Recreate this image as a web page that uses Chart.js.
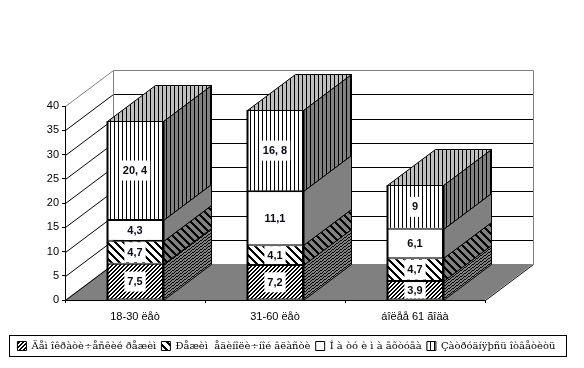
<!DOCTYPE html>
<html><head><meta charset="utf-8">
<style>html,body{margin:0;padding:0;background:#fff}canvas{display:block}</style>
<script src="https://cdn.jsdelivr.net/npm/chart.js@4"></script>
</head><body><canvas id="c" width="584" height="368"></canvas>
<script>
const categories = ["18-30 ëåò", "31-60 ëåò", "áîëåå 61 ãîäà"];
const seriesNames = ["Äåì îêðàòè÷åñêèé ðåæèì", "Ðåæèì  åäèíîëè÷íîé âëàñòè", "Î à òó è ì à ãõòóãà", "Çàòðóäíÿþñü îòâåòèòü"];
const democratic = [7.5, 7.2, 3.9];
const autocratic = [4.7, 4.1, 4.7];
const other = [4.3, 11.1, 6.1];
const undecided = [20.4, 16.8, 9];
const valueLabels = [["7,5","7,2","3,9"],["4,7","4,1","4,7"],["4,3","11,1","6,1"],["20, 4","16, 8","9"]];

const DX = 48, DY = 36, LEGEND_SHIFT = 4;
function tile(w,h,bg,fn){
  const t=document.createElement('canvas');t.width=w;t.height=h;
  const g=t.getContext('2d');g.fillStyle=bg;g.fillRect(0,0,w,h);g.fillStyle='#000';
  for(let x=0;x<w;x++)for(let y=0;y<h;y++)if(fn(x,y))g.fillRect(x,y,1,1);
  return g.createPattern(t,'repeat');
}
const mod=(a,n)=>((a%n)+n)%n;
const dense=b=>tile(4,4,b,(x,y)=>mod(x+y,4)<2);
const wide=b=>tile(8,8,b,(x,y)=>mod(x-y,8)<3);
const vert=b=>tile(4,1,b,(x,y)=>x===2);
const frontFill=[dense('#fff'),wide('#fff'),'#fff',vert('#fff')];
const sideFill=[tile(4,3,'#808080',(x,y)=>mod(y+Math.floor(.75*x),3)===0),wide('#808080'),'#808080',vert('#808080')];
const topFill=vert('#C0C0C0');

const walls={id:'walls',afterLayout(ch){ch.legend.top+=LEGEND_SHIFT;},beforeDraw(ch){
  const g=ch.ctx,xs=ch.scales.x,ys=ch.scales.y;
  const L=xs.left,R=xs.right,B=ys.getPixelForValue(0),T=ys.getPixelForValue(40);
  g.save();
  g.fillStyle='#808080';g.beginPath();g.moveTo(L,B);g.lineTo(L+DX,B-DY);g.lineTo(R+DX,B-DY);g.lineTo(R,B);g.closePath();g.fill();
  g.lineWidth=1;
  ys.ticks.forEach(t=>{
    const y=Math.round(ys.getPixelForValue(t.value))+.5;
    g.strokeStyle=t.value===40?'#808080':'#000';
    g.beginPath();g.moveTo(L+.5,y);g.lineTo(L+DX+.5,y-DY);
    if(t.value<40&&t.value>0)g.lineTo(R+DX,y-DY);
    g.stroke();
  });
  g.strokeStyle='#808080';
  g.beginPath();g.moveTo(L+DX+.5,B-DY);g.lineTo(L+DX+.5,T-DY+.5);g.lineTo(R+DX+.5,T-DY+.5);g.lineTo(R+DX+.5,B-DY);g.stroke();
  g.strokeStyle='#000';g.beginPath();g.moveTo(R+DX+.5,B-DY+.5);g.lineTo(R+.5,B+.5);g.stroke();
  g.restore();
}};
const depth={id:'depth',beforeDatasetsDraw(ch){
  const g=ch.ctx;g.save();g.lineWidth=1;g.strokeStyle='#000';
  ch.data.datasets.forEach((d,di)=>{
    ch.getDatasetMeta(di).data.forEach(b=>{
      const r=Math.round(b.x+b.width/2)+.5,t=Math.round(b.y)+.5,bt=Math.round(b.base)+.5,l=Math.round(b.x-b.width/2)+.5;
      g.fillStyle=sideFill[di];g.beginPath();g.moveTo(r,bt);g.lineTo(r+DX,bt-DY);g.lineTo(r+DX,t-DY);g.lineTo(r,t);g.closePath();g.fill();g.stroke();
      if(di===ch.data.datasets.length-1){
        g.fillStyle=topFill;g.beginPath();g.moveTo(l,t);g.lineTo(l+DX,t-DY);g.lineTo(r+DX,t-DY);g.lineTo(r,t);g.closePath();g.fill();g.stroke();
      }
    });
  });
  g.restore();
},afterDatasetsDraw(ch){
  const g=ch.ctx;g.save();
  g.font='bold 11px "Liberation Sans"';g.textAlign='center';g.textBaseline='middle';
  ch.data.datasets.forEach((d,di)=>{
    ch.getDatasetMeta(di).data.forEach((b,i)=>{
      const s=valueLabels[di][i],cy=(b.y+b.base)/2,w=g.measureText(s).width+6;
      const top=Math.max(cy-10,b.y+1),bot=Math.min(cy+10,b.base-1);
      g.fillStyle='#fff';g.fillRect(b.x-w/2,top,w,bot-top);
      g.fillStyle='#0a0a14';g.fillText(s,b.x,cy+.5);
    });
  });
  g.strokeStyle='#000';g.lineWidth=2;
  ch.getDatasetMeta(3).data.forEach(b=>{
    const B=ch.scales.y.getPixelForValue(0);
    [b.x-b.width/2,b.x+b.width/2].forEach(x=>{const X=Math.round(x)+.5;g.beginPath();g.moveTo(X,b.y);g.lineTo(X,B);g.stroke();});
  });
  g.restore();
},afterDraw(ch){
  const l=ch.legend,g=ch.ctx;g.save();g.strokeStyle='#000';g.lineWidth=1;
  g.strokeRect(Math.round(l.left)+.5,Math.round(l.top-LEGEND_SHIFT)+.5,Math.round(l.width)-1,Math.round(l.height)-1);
  g.restore();
}};
const mk=(i,data)=>({label:seriesNames[i],data,backgroundColor:frontFill[i],borderColor:'#000',borderWidth:1,borderSkipped:false,barPercentage:.4,categoryPercentage:1});
new Chart(document.getElementById('c'),{
  type:'bar',
  data:{labels:categories,datasets:[mk(0,democratic),mk(1,autocratic),mk(2,other),mk(3,undecided)]},
  plugins:[walls,depth],
  options:{
    responsive:false,animation:false,devicePixelRatio:1,
    layout:{padding:{left:9,right:17,top:106,bottom:11}},
    plugins:{
      tooltip:{enabled:false},
      legend:{position:'bottom',labels:{
        boxWidth:9,boxHeight:9,padding:2,color:'#000',font:{family:'"DejaVu Serif"',size:10,lineHeight:1},
        generateLabels:ch=>ch.data.datasets.map((d,i)=>({text:d.label+' ',fillStyle:frontFill[i],strokeStyle:'#000',lineWidth:1,datasetIndex:i,hidden:false}))
      }}
    },
    scales:{
      x:{stacked:true,offset:true,afterFit:s=>{s.height=35},
        grid:{drawOnChartArea:false,tickLength:3,color:'#000',offset:true},border:{color:'#000'},
        ticks:{color:'#000',padding:7,maxRotation:0,font:{family:'"Liberation Sans"',size:11}}},
      y:{stacked:true,min:0,max:40,afterFit:s=>{s.width=56},
        grid:{drawOnChartArea:false,tickLength:3,color:'#000'},border:{color:'#000'},
        ticks:{stepSize:5,color:'#000',padding:3,font:{family:'"Liberation Sans"',size:11}}},
      y2:{position:'right',min:0,max:40,afterFit:s=>{s.width=82},grid:{display:false},border:{display:false},ticks:{display:false}}
    }
  }
});
</script></body></html>
